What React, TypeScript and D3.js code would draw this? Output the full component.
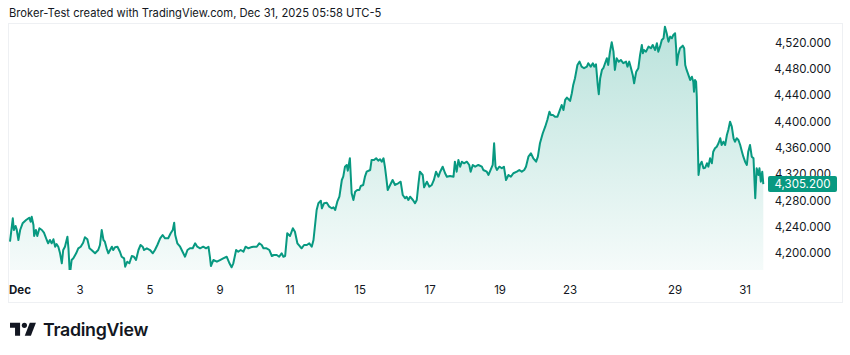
import React from "react";
import * as d3 from "d3";

// ---- data (x = trading-session offset since Dec 1 open, value = price) ----
const priceSeries: [number, number][] = [
  [0, 4217.6], [0.08, 4253.2], [0.11, 4235.4], [0.16, 4241.5], [0.19, 4236.5], [0.24, 4220.2], [0.29, 4235.4], [0.36, 4245.6], [0.46, 4250.6], [0.55, 4254.1], [0.59, 4248.0], [0.62, 4255.6], [0.67, 4243.0], [0.69, 4226.3], [0.74, 4235.4], [0.78, 4226.3], [0.84, 4238.0], [0.91, 4235.4], [0.97, 4231.3],
  [1.05, 4220.2], [1.09, 4215.2], [1.14, 4220.2], [1.19, 4215.2], [1.24, 4221.3], [1.29, 4210.0], [1.33, 4214.1], [1.38, 4210.0], [1.43, 4200.0], [1.48, 4184.8], [1.52, 4205.0], [1.57, 4210.0], [1.64, 4225.2], [1.67, 4207.6], [1.71, 4167.0], [1.76, 4189.8], [1.81, 4192.4], [1.89, 4200.0], [1.95, 4207.6],
  [2.02, 4210.0], [2.09, 4216.1], [2.14, 4224.3], [2.21, 4221.3], [2.27, 4207.6], [2.33, 4205.0], [2.43, 4200.0], [2.52, 4205.0], [2.57, 4212.6], [2.62, 4235.4], [2.67, 4220.2], [2.71, 4217.6], [2.76, 4207.6], [2.81, 4200.0], [2.86, 4205.0], [2.91, 4210.0], [2.95, 4205.0],
  [3.0, 4209.1], [3.07, 4210.0], [3.14, 4202.4], [3.19, 4194.8], [3.26, 4192.4], [3.29, 4179.6], [3.35, 4187.2], [3.41, 4184.8], [3.48, 4195.9], [3.54, 4194.8], [3.6, 4189.8], [3.67, 4205.0], [3.73, 4212.6], [3.79, 4210.0], [3.83, 4205.0], [3.91, 4207.6],
  [4.0, 4205.0], [4.08, 4200.0], [4.14, 4205.0], [4.21, 4212.6], [4.29, 4222.8], [4.36, 4227.8], [4.43, 4222.8], [4.52, 4222.8], [4.59, 4230.4], [4.65, 4235.4], [4.69, 4246.5], [4.72, 4227.8], [4.78, 4215.2], [4.86, 4210.0], [4.93, 4202.4],
  [5.0, 4194.8], [5.07, 4205.0], [5.14, 4207.6], [5.22, 4207.6], [5.29, 4215.2], [5.35, 4210.0], [5.43, 4207.6], [5.52, 4210.0], [5.6, 4207.6], [5.67, 4210.0], [5.71, 4194.8], [5.74, 4180.7], [5.81, 4189.8], [5.91, 4187.2],
  [6.0, 4189.8], [6.09, 4192.4], [6.19, 4194.8], [6.27, 4184.8], [6.33, 4178.7], [6.38, 4184.8], [6.46, 4205.0], [6.52, 4202.4], [6.59, 4205.0], [6.67, 4202.4], [6.73, 4210.0], [6.81, 4207.6], [6.88, 4209.1], [6.95, 4210.0],
  [7.05, 4210.0], [7.12, 4215.2], [7.19, 4212.6], [7.24, 4207.6], [7.33, 4207.6], [7.41, 4205.0], [7.48, 4195.9], [7.54, 4197.4], [7.62, 4197.4], [7.69, 4194.8], [7.76, 4200.0], [7.81, 4194.8], [7.86, 4195.9], [7.92, 4230.4],
  [8.0, 4226.3], [8.08, 4238.0], [8.14, 4232.8], [8.21, 4215.2], [8.29, 4210.0], [8.33, 4207.6], [8.4, 4212.6], [8.48, 4212.6], [8.55, 4215.2], [8.62, 4210.0], [8.67, 4220.2], [8.71, 4240.4], [8.76, 4265.8], [8.81, 4276.0], [8.88, 4279.9], [8.91, 4268.4], [8.97, 4276.0],
  [9.05, 4276.9], [9.12, 4270.8], [9.19, 4268.4], [9.24, 4269.9], [9.29, 4265.8], [9.35, 4278.4], [9.41, 4286.0], [9.48, 4311.4], [9.52, 4316.4], [9.57, 4331.6], [9.62, 4334.2], [9.65, 4325.5], [9.71, 4344.4], [9.76, 4291.2], [9.81, 4281.0], [9.86, 4293.6], [9.92, 4296.2], [9.98, 4296.2],
  [10.02, 4302.3], [10.09, 4303.8], [10.14, 4316.4], [10.19, 4324.0], [10.29, 4326.6], [10.33, 4341.8], [10.4, 4341.8], [10.46, 4344.4], [10.52, 4340.7], [10.57, 4342.9], [10.62, 4339.2], [10.67, 4344.4], [10.71, 4331.6], [10.74, 4319.0], [10.79, 4296.2], [10.86, 4303.8], [10.93, 4311.4],
  [11.0, 4303.8], [11.09, 4306.4], [11.16, 4308.8], [11.22, 4288.6], [11.29, 4283.6], [11.33, 4286.0], [11.38, 4281.0], [11.43, 4286.0], [11.51, 4281.0], [11.57, 4276.0], [11.62, 4281.0], [11.67, 4306.4], [11.71, 4324.0], [11.79, 4319.0], [11.83, 4300.3], [11.91, 4308.8], [11.98, 4301.2],
  [12.05, 4303.8], [12.11, 4311.4], [12.17, 4324.0], [12.24, 4316.4], [12.29, 4324.0], [12.36, 4331.6], [12.43, 4321.6], [12.48, 4316.4], [12.57, 4317.5], [12.67, 4316.4], [12.71, 4339.2], [12.76, 4324.0], [12.81, 4341.8], [12.86, 4331.6], [12.91, 4339.2], [12.97, 4336.8],
  [13.05, 4339.2], [13.12, 4334.2], [13.16, 4324.0], [13.22, 4334.2], [13.29, 4331.6], [13.38, 4334.2], [13.48, 4331.6], [13.52, 4326.6], [13.62, 4324.0], [13.67, 4319.0], [13.73, 4326.6], [13.79, 4334.2], [13.83, 4367.2], [13.87, 4331.6], [13.91, 4326.6], [13.98, 4331.6],
  [14.05, 4329.2], [14.11, 4331.6], [14.17, 4311.4], [14.24, 4319.0], [14.31, 4316.4], [14.38, 4321.6], [14.48, 4324.0], [14.55, 4326.6], [14.62, 4324.0], [14.69, 4326.6], [14.74, 4331.6], [14.81, 4346.8], [14.88, 4352.0], [14.95, 4344.4],
  [15.03, 4339.2], [15.08, 4346.8], [15.14, 4367.2], [15.22, 4382.4], [15.29, 4392.4], [15.35, 4402.6], [15.41, 4415.2], [15.45, 4410.2], [15.51, 4410.2], [15.57, 4407.6], [15.64, 4407.6], [15.71, 4417.8], [15.76, 4425.4], [15.81, 4417.8], [15.86, 4433.0], [15.91, 4436.5], [15.95, 4434.5],
  [16.0, 4431.5], [16.05, 4443.2], [16.09, 4455.8], [16.14, 4466.0], [16.21, 4486.2], [16.27, 4491.2], [16.33, 4483.6], [16.4, 4481.2], [16.48, 4483.6], [16.52, 4488.8], [16.59, 4483.6], [16.65, 4488.8], [16.69, 4483.6], [16.74, 4487.3], [16.79, 4455.8], [16.82, 4441.7], [16.86, 4466.0], [16.91, 4478.6], [16.95, 4481.2],
  [17.0, 4488.8], [17.05, 4496.4], [17.09, 4486.2], [17.14, 4506.4], [17.19, 4520.7], [17.24, 4506.4], [17.28, 4478.6], [17.33, 4496.4], [17.39, 4491.2], [17.45, 4493.8], [17.52, 4488.8], [17.6, 4491.2], [17.64, 4483.6], [17.69, 4491.2], [17.73, 4483.6], [17.79, 4471.0], [17.83, 4458.4], [17.89, 4476.0], [17.95, 4481.2],
  [18.0, 4501.4], [18.05, 4516.6], [18.08, 4504.0], [18.11, 4509.0], [18.17, 4506.4], [18.24, 4514.0], [18.31, 4511.6], [18.36, 4516.6], [18.43, 4509.0], [18.48, 4519.2], [18.52, 4506.4], [18.57, 4514.0], [18.62, 4524.2], [18.67, 4526.8], [18.71, 4544.4], [18.76, 4534.4], [18.81, 4521.6], [18.86, 4529.2], [18.91, 4526.8], [18.95, 4531.8],
  [19.0, 4534.4], [19.03, 4511.6], [19.05, 4486.2], [19.09, 4501.4], [19.14, 4511.6], [19.22, 4515.5], [19.26, 4511.6], [19.29, 4486.2], [19.33, 4478.6], [19.38, 4471.0], [19.43, 4463.4], [19.48, 4468.3], [19.52, 4460.7], [19.54, 4445.6], [19.57, 4463.4], [19.6, 4460.7], [19.62, 4438.0], [19.64, 4384.8], [19.67, 4319.0], [19.71, 4334.2], [19.76, 4339.2], [19.81, 4329.2], [19.86, 4330.1], [19.91, 4336.8], [19.95, 4331.6],
  [20.0, 4344.4], [20.05, 4336.8], [20.09, 4354.4], [20.14, 4359.6], [20.19, 4362.0], [20.24, 4367.2], [20.29, 4374.8], [20.33, 4364.6], [20.38, 4369.5], [20.43, 4364.6], [20.48, 4379.8], [20.52, 4387.4], [20.57, 4400.0], [20.62, 4392.4], [20.67, 4374.8], [20.71, 4369.5], [20.76, 4374.8], [20.81, 4372.2], [20.86, 4364.6], [20.91, 4354.4], [20.95, 4346.8],
  [21.0, 4339.2], [21.05, 4334.2], [21.09, 4354.4], [21.14, 4364.6], [21.19, 4346.8], [21.24, 4344.4], [21.29, 4283.6], [21.33, 4329.2], [21.38, 4319.0], [21.41, 4329.2], [21.45, 4308.8], [21.49, 4324.0], [21.52, 4305.2],
];

const xTickLabels = ["Dec", "3", "5", "9", "11", "15", "17", "19", "23", "29", "31"];
const xTickSessions = [0, 2, 4, 6, 8, 10, 12, 14, 16, 19, 21];
const yTickValues = [4200, 4240, 4280, 4320, 4360, 4400, 4440, 4480, 4520];
const lastPrice = 4305.2;
const titleText = "Broker-Test created with TradingView.com, Dec 31, 2025 05:58 UTC-5";

const W = 850;
const H = 355;
const GREEN = "#089981";
const TEXT = "#131722";
const FONT = "Inter, Roboto, 'Noto Sans', sans-serif";

export default function App() {
  const x = d3.scaleLinear().domain([0, 21.52]).range([10, 763.3]);
  const y = d3.scaleLinear().domain([4200, 4520]).range([253.3, 42.7]);
  const plotBottom = 270;

  const line = d3
    .line<[number, number]>()
    .x((d) => x(d[0]))
    .y((d) => y(d[1]));
  const area = d3
    .area<[number, number]>()
    .x((d) => x(d[0]))
    .y0(plotBottom)
    .y1((d) => y(d[1]));

  const maxV = d3.max(priceSeries, (d) => d[1]) as number;
  const fmt = d3.format(",.3f");
  const yLast = y(lastPrice);

  return (
    <svg
      width={W}
      height={H}
      style={{ position: "absolute", left: 0, top: 0, background: "#fff" }}
      fontFamily={FONT}
    >
      <defs>
        <linearGradient id="areaGrad" gradientUnits="userSpaceOnUse" x1="0" x2="0" y1={y(maxV)} y2={plotBottom}>
          <stop offset="0%" stopColor={GREEN} stopOpacity={0.28} />
          <stop offset="100%" stopColor={GREEN} stopOpacity={0.04} />
        </linearGradient>
        <clipPath id="plotClip">
          <rect x={9} y={24} width={756} height={plotBottom - 24} />
        </clipPath>
      </defs>

      <text x={9} y={17} fontSize={11.2} fill={TEXT}>
        {titleText}
      </text>

      <rect x={8.5} y={23.5} width={834} height={279} fill="none" stroke="#eef0f3" strokeWidth={1} />

      <g clipPath="url(#plotClip)">
        <path d={area(priceSeries) || ""} fill="url(#areaGrad)" />
        <path d={line(priceSeries) || ""} fill="none" stroke={GREEN} strokeWidth={2} strokeLinejoin="round" />
      </g>

      {yTickValues.map((v) => (
        <text key={v} x={831} y={y(v)} fontSize={11.5} fill={TEXT} textAnchor="end" dominantBaseline="central">
          {fmt(v)}
        </text>
      ))}

      <rect x={768} y={yLast - 8} width={69} height={16} rx={2} fill={GREEN} />
      <text x={802.5} y={yLast} fontSize={11.5} fill="#fff" textAnchor="middle" dominantBaseline="central">
        {fmt(lastPrice)}
      </text>

      {xTickLabels.map((lab, i) => (
        <text
          key={lab}
          x={i === 0 ? x(xTickSessions[i]) - 1 : x(xTickSessions[i])}
          y={290}
          fontSize={11.5}
          fill={TEXT}
          fontWeight={i === 0 ? 700 : 400}
          textAnchor={i === 0 ? "start" : "middle"}
          dominantBaseline="central"
        >
          {lab}
        </text>
      ))}

      <g transform="translate(10,322.7) scale(0.72)" fill={TEXT}>
        <path d="M0 0 H14 V18 H7 V7 H0 Z" />
        <circle cx={20} cy={3.6} r={3.6} />
        <path d="M20.5 18 L27.5 0 H36 L29 18 Z" />
      </g>
      <text x={43} y={336} fontSize={17.8} fontWeight={600} fill={TEXT} letterSpacing={-0.3}>
        TradingView
      </text>
    </svg>
  );
}
